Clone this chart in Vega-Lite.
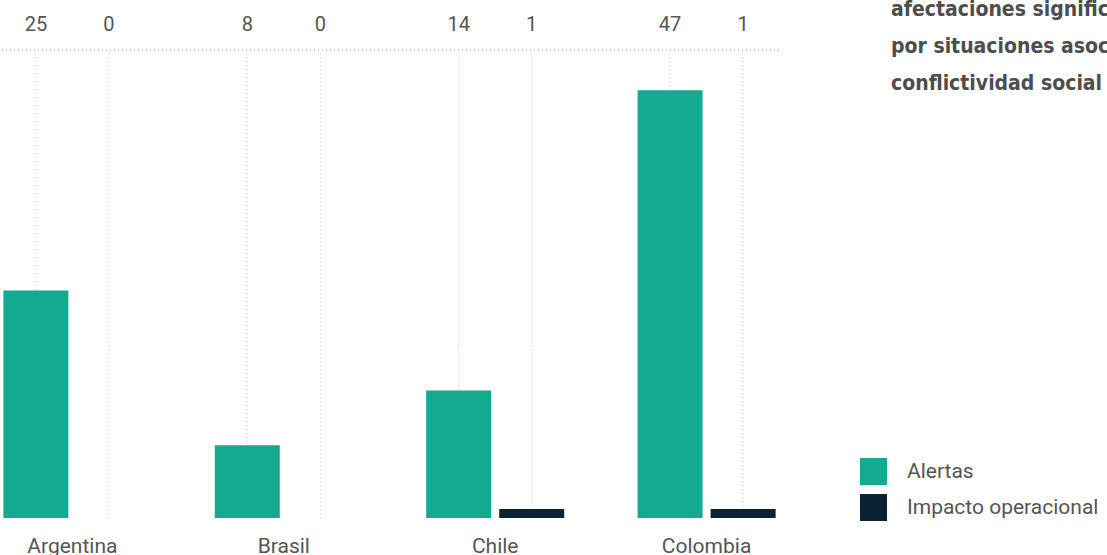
{
  "$schema": "https://vega.github.io/schema/vega-lite/v6.json",
  "autosize": {"type": "none"},
  "padding": {"top": 0, "left": 0, "right": 328, "bottom": 37},
  "width": 779,
  "height": 518,
  "background": "white",
  "title": {
    "text": ["afectaciones significativas", "por situaciones asociadas a", "conflictividad social"],
    "anchor": "start",
    "frame": "group",
    "orient": "top",
    "offset": 0,
    "dx": 891,
    "dy": 111,
    "baseline": "alphabetic",
    "lineHeight": 37,
    "fontSize": 21,
    "font": "DejaVu Sans Condensed",
    "fontWeight": "bold",
    "color": "#4d4d4d",
    "limit": 0
  },
  "data": {
    "values": [
      {"country": "Argentina", "serie": "Alertas", "value": 25},
      {"country": "Argentina", "serie": "Impacto operacional", "value": 0},
      {"country": "Brasil", "serie": "Alertas", "value": 8},
      {"country": "Brasil", "serie": "Impacto operacional", "value": 0},
      {"country": "Chile", "serie": "Alertas", "value": 14},
      {"country": "Chile", "serie": "Impacto operacional", "value": 1},
      {"country": "Colombia", "serie": "Alertas", "value": 47},
      {"country": "Colombia", "serie": "Impacto operacional", "value": 1}
    ]
  },
  "encoding": {
    "x": {
      "field": "country",
      "type": "nominal",
      "sort": ["Argentina", "Brasil", "Chile", "Colombia"],
      "scale": {"paddingInner": 0.347, "paddingOuter": 0.016},
      "axis": {
        "title": null,
        "labelAngle": 0,
        "ticks": false,
        "domain": false,
        "grid": false,
        "labelPadding": 17,
        "labelFontSize": 21,
        "labelFont": "Roboto",
        "labelColor": "#555555"
      }
    },
    "xOffset": {
      "field": "serie",
      "type": "nominal",
      "sort": ["Alertas", "Impacto operacional"],
      "scale": {"paddingInner": 0.11, "paddingOuter": 0}
    }
  },
  "layer": [
    {
      "mark": {"type": "rule", "color": "#c8c8c8", "strokeWidth": 1, "strokeDash": [1, 3]},
      "encoding": {
        "y": {"datum": 0, "type": "quantitative", "scale": {"domain": [0, 56.9], "nice": false}, "axis": null},
        "y2": {"datum": 51.4}
      }
    },
    {
      "mark": {"type": "rule", "color": "#c8c8c8", "strokeWidth": 1, "strokeDash": [1, 3]},
      "encoding": {
        "x": null,
        "xOffset": null,
        "y": {"datum": 51.4, "type": "quantitative"}
      }
    },
    {
      "mark": {"type": "bar"},
      "encoding": {
        "y": {"field": "value", "type": "quantitative"},
        "color": {
          "field": "serie",
          "type": "nominal",
          "scale": {"domain": ["Alertas", "Impacto operacional"], "range": ["#14aa90", "#0b2233"]},
          "legend": {
            "title": null,
            "orient": "none",
            "legendX": 860,
            "legendY": 458,
            "symbolType": "square",
            "symbolSize": 729,
            "symbolStrokeWidth": 0,
            "symbolOpacity": 1,
            "labelFontSize": 21,
            "labelFont": "Roboto",
            "labelColor": "#555555",
            "labelOffset": 20,
            "labelLimit": 400,
            "rowPadding": 9
          }
        }
      }
    },
    {
      "mark": {"type": "text", "fontSize": 20, "font": "Roboto", "color": "#555555", "baseline": "middle"},
      "encoding": {
        "y": {"datum": 54.1, "type": "quantitative"},
        "text": {"field": "value", "type": "quantitative"}
      }
    }
  ],
  "config": {"view": {"stroke": null}}
}
